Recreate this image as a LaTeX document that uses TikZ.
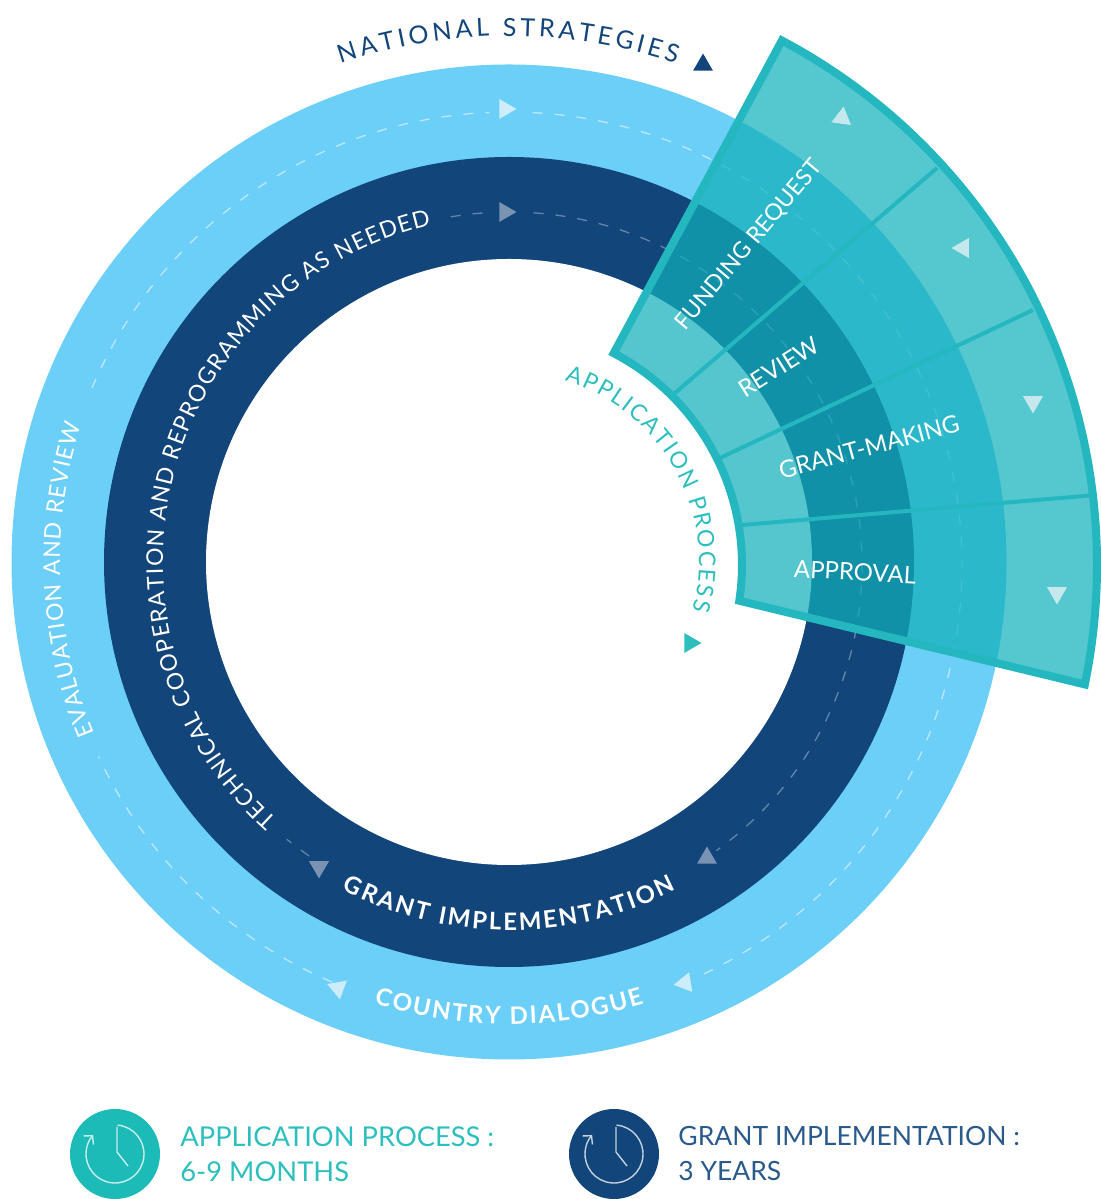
\documentclass[tikz,border=0pt]{standalone}
\usepackage{fontspec}
\setmainfont{Lato}
\usetikzlibrary{arrows.meta,positioning,shapes.geometric,decorations.text}
\definecolor{skyring}{HTML}{6CCFF7}
\definecolor{navyring}{HTML}{12457A}
\definecolor{tealover}{HTML}{11B0BA}
\definecolor{tealedge}{HTML}{25B7BF}
\definecolor{tealtext}{HTML}{2DBFBE}
\definecolor{tealdisc}{HTML}{1DBBB8}
\definecolor{navytext}{HTML}{2A5A8C}
\definecolor{skydash}{HTML}{BDE8FA}
\definecolor{navydash}{HTML}{6485AC}
\definecolor{skytip}{HTML}{CDEDFB}
\definecolor{navytip}{HTML}{7B93B3}
\definecolor{sectortip}{HTML}{C5E8EC}
\newcommand{\capsfont}{\fontsize{25}{29}\selectfont}
\newcommand{\boldcapsfont}{\fontsize{24}{28}\selectfont\bfseries}
\newcommand{\bandfont}{\fontsize{23}{27}\selectfont}
\newcommand{\stepfont}{\fontsize{24}{28}\selectfont}

\begin{document}
\begin{tikzpicture}[
    x=1pt, y=1pt,
    every node/.style={font=\stepfont},
    arclabel/.style={decorate, decoration={text along path, text={#1}, text align={fit to path}}},
    skydashed/.style={draw=skydash, line width=1.3pt, dash pattern=on 10pt off 12pt},
    navydashed/.style={draw=navydash, line width=1.3pt, dash pattern=on 10pt off 12pt},
    tip/.style={regular polygon, regular polygon sides=3, minimum size=23pt, inner sep=0pt},
    steplabel/.style={text=white, inner sep=0pt},
    clockdisc/.style={circle, minimum size=90pt, inner sep=0pt},
    clockline/.style={draw=white!75!#1, line width=1.4pt},
    legendtext/.style={align=left, font=\fontsize{27}{35}\selectfont, inner sep=0pt}
]
\useasboundingbox (0,0) rectangle (1100,1199);
\coordinate (ctr) at (509,637);
\coordinate (dashctr) at (509,634);
\coordinate (sectorctr) at (503,634);

% Rings
\fill[skyring] (ctr) circle[radius=497.5];
\fill[navyring] (ctr) circle[radius=405];
\fill[white] (ctr) circle[radius=303];

% Dashed flow in the rings
\path[skydashed] ([shift={(87:453)}]dashctr) arc[start angle=87, end angle=-66, radius=453];
\path[skydashed] ([shift={(247:453)}]dashctr) arc[start angle=247, end angle=205, radius=453];
\path[skydashed] ([shift={(157:453)}]dashctr) arc[start angle=157, end angle=92.5, radius=453];
\path[navydashed] ([shift={(86:353)}]dashctr) arc[start angle=86, end angle=-54, radius=353];
\path[navydashed] ([shift={(99.5:353)}]dashctr) arc[start angle=99.5, end angle=93, radius=353];
\path[navydashed] ([shift={(235.5:353)}]dashctr) arc[start angle=235.5, end angle=231, radius=353];

\node[tip, fill=skytip, rotate=-90] (tipskytop) at (505,1090) {};
\node[tip, fill=navytip, rotate=-90] (tipnavytop) at (505,987) {};
\node[tip, fill=navytip] (tipnavyright) at (707,341) {};
\node[tip, fill=navytip, rotate=180] (tipnavyleft) at (319,332) {};
\node[tip, fill=skytip, rotate=99] (tipskyright) at (685,216) {};
\node[tip, fill=skytip, rotate=190] (tipskyleft) at (338,211) {};

% Curved labels
\path[arclabel={|\capsfont\color{navyring}|NATIONAL STRATEGIES}] ([shift={(108.7:526)}]ctr) arc[start angle=108.7, end angle=71.5, radius=526];
\path[arclabel={|\bandfont\color{white}|EVALUATION AND REVIEW}] ([shift={(202.5:449)}]ctr) arc[start angle=202.5, end angle=162.2, radius=449];
\path[arclabel={|\bandfont\color{white}|TECHNICAL COOPERATION AND REPROGRAMMING AS NEEDED}] ([shift={(228:346)}]ctr) arc[start angle=228, end angle=103, radius=346];
\path[arclabel={|\boldcapsfont\color{white}|GRANT IMPLEMENTATION}] ([shift={(243:368)}]ctr) arc[start angle=243, end angle=297, radius=368];
\path[arclabel={|\boldcapsfont\color{white}|COUNTRY DIALOGUE}] ([shift={(253:462)}]ctr) arc[start angle=253, end angle=287, radius=462];
\path[arclabel={|\bandfont\color{tealtext}|APPLICATION PROCESS}] ([shift={(73:190)}]ctr) arc[start angle=73, end angle=-14.7, radius=190];
\node[tip, fill=navyring] (tipnational) at (703,1134) {};
\node[tip, fill=tealtext, rotate=-90] (tipapp) at (690,556) {};

% Application sector
\path[fill=tealover, fill opacity=0.715] ([shift={(62:594)}]sectorctr) arc[start angle=62, end angle=-11.6, radius=594]
    -- ([shift={(-8.6:239)}]sectorctr) arc[start angle=-8.6, end angle=62.4, radius=239] -- cycle;
\draw[tealedge, line width=8pt, miter limit=10] ([shift={(62:594)}]sectorctr) arc[start angle=62, end angle=-11.6, radius=594]
    -- ([shift={(-8.6:239)}]sectorctr) arc[start angle=-8.6, end angle=62.4, radius=239] -- cycle;
\coordinate (divaout) at (937,1031);
\coordinate (divain) at (675,806);
\coordinate (divbout) at (1033,889);
\coordinate (divbin) at (720,741);
\coordinate (divcout) at (1096,704);
\coordinate (divcin) at (742,674);
\draw[tealedge, line width=4pt] (divain) -- (divaout);
\draw[tealedge, line width=4pt] (divbin) -- (divbout);
\draw[tealedge, line width=4pt] (divcin) -- (divcout);

\node[tip, fill=sectortip, rotate=-8] (tipfunding) at (842,1081) {};
\node[tip, fill=sectortip, rotate=90] (tipreview) at (963,951) {};
\node[tip, fill=sectortip, rotate=180] (tipmaking) at (1033,797) {};
\node[tip, fill=sectortip, rotate=180] (tipapproval) at (1057,606) {};

\node[steplabel, rotate=50, font=\fontsize{23}{27}\selectfont] (funding) at (749,954) {FUNDING REQUEST};
\node[steplabel, rotate=32] (review) at (779,832) {REVIEW};
\node[steplabel, rotate=15] (making) at (869,752) {GRANT-MAKING};
\node[steplabel, rotate=-3] (approval) at (855,627) {APPROVAL};

% Legend
\node[clockdisc, fill=tealdisc] (clockapp) at (115,45) {};
\node[legendtext, text=tealtext, right=20pt of clockapp, font=\fontsize{27.3}{35}\selectfont] (legendapp) {APPLICATION PROCESS :\\6-9 MONTHS};
\draw[clockline=tealdisc, -{Straight Barb[length=6pt, width=13pt]}] ([shift={(85:29)}]clockapp.center) arc[start angle=85, end angle=-221, radius=29];
\draw[clockline=tealdisc] ([shift={(2,27)}]clockapp.center) -- ([shift={(2,2)}]clockapp.center) -- ([shift={(13,-12)}]clockapp.center);

\node[clockdisc, fill=navyring] (clockgrant) at (614,45) {};
\node[legendtext, text=navytext, right=19pt of clockgrant, font=\fontsize{26.5}{35}\selectfont] (legendgrant) {GRANT IMPLEMENTATION :\\3 YEARS};
\draw[clockline=navyring, -{Straight Barb[length=6pt, width=13pt]}] ([shift={(85:29)}]clockgrant.center) arc[start angle=85, end angle=-221, radius=29];
\draw[clockline=navyring] ([shift={(2,27)}]clockgrant.center) -- ([shift={(2,2)}]clockgrant.center) -- ([shift={(13,-12)}]clockgrant.center);
\end{tikzpicture}
\end{document}
